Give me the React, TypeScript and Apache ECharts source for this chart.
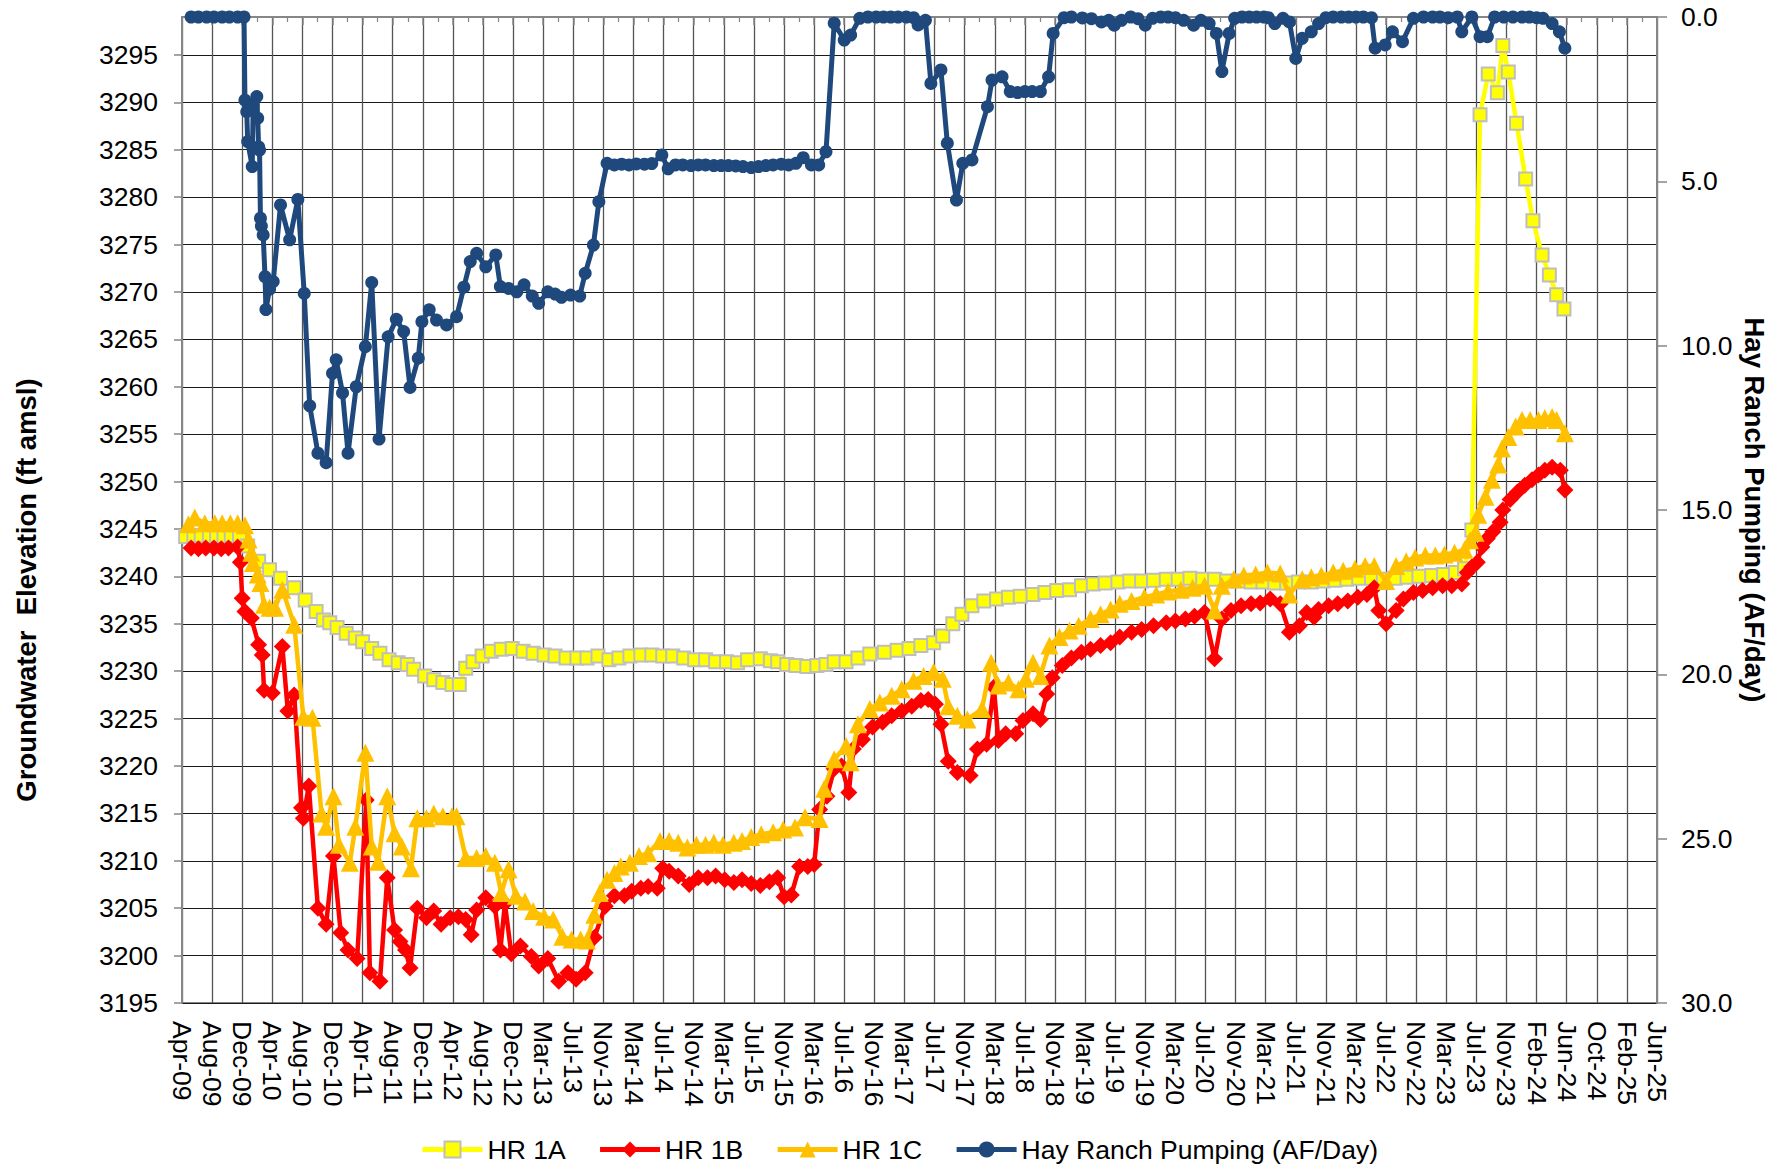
import React, { useEffect, useRef } from "react";
import * as echarts from "echarts";

const xLabels = [
  "Apr-09", "Aug-09", "Dec-09", "Apr-10", "Aug-10", "Dec-10", "Apr-11", "Aug-11", "Dec-11", "Apr-12",
  "Aug-12", "Dec-12", "Mar-13", "Jul-13", "Nov-13", "Mar-14", "Jul-14", "Nov-14", "Mar-15", "Jul-15",
  "Nov-15", "Mar-16", "Jul-16", "Nov-16", "Mar-17", "Jul-17", "Nov-17", "Mar-18", "Jul-18", "Nov-18",
  "Mar-19", "Jul-19", "Nov-19", "Mar-20", "Jul-20", "Nov-20", "Mar-21", "Jul-21", "Nov-21", "Mar-22",
  "Jul-22", "Nov-22", "Mar-23", "Jul-23", "Nov-23", "Feb-24", "Jun-24", "Oct-24", "Feb-25", "Jun-25",
];

// x-axis: label k sits at decimal year X0 + k * XSTEP
const X0 = 2009.29;
const XSTEP = 0.33;

// [decimal year, groundwater elevation ft amsl]
const hr1a: [number, number][] = [
  [2009.33, 3244.2], [2009.42, 3244.3], [2009.5, 3244.3], [2009.59, 3244.2], [2009.67, 3244.3], [2009.75, 3244.2],
  [2009.83, 3244.3], [2009.92, 3244.2], [2010.01, 3243.2], [2010.13, 3241.6], [2010.25, 3240.7], [2010.37, 3239.8],
  [2010.52, 3238.8], [2010.64, 3237.5], [2010.76, 3236.3], [2010.84, 3235.4], [2010.91, 3235.1], [2010.99, 3234.6],
  [2011.09, 3234.0], [2011.19, 3233.5], [2011.27, 3233.1], [2011.37, 3232.4], [2011.46, 3231.9], [2011.56, 3231.2],
  [2011.66, 3230.9], [2011.76, 3230.7], [2011.83, 3230.2], [2011.95, 3229.5], [2012.05, 3229.1], [2012.15, 3228.8],
  [2012.25, 3228.6], [2012.33, 3228.6], [2012.4, 3230.3], [2012.48, 3231.0], [2012.58, 3231.6], [2012.68, 3232.1],
  [2012.79, 3232.3], [2012.91, 3232.4], [2013.03, 3232.1], [2013.14, 3231.9], [2013.26, 3231.7], [2013.38, 3231.6],
  [2013.5, 3231.4], [2013.62, 3231.4], [2013.73, 3231.4], [2013.85, 3231.6], [2013.97, 3231.2], [2014.08, 3231.4],
  [2014.2, 3231.6], [2014.32, 3231.7], [2014.44, 3231.7], [2014.56, 3231.6], [2014.67, 3231.6], [2014.79, 3231.4],
  [2014.91, 3231.2], [2015.03, 3231.2], [2015.14, 3231.0], [2015.26, 3231.0], [2015.38, 3230.9], [2015.49, 3231.2],
  [2015.63, 3231.3], [2015.74, 3231.1], [2015.82, 3231.0], [2015.92, 3230.7], [2016.02, 3230.6], [2016.14, 3230.5],
  [2016.25, 3230.6], [2016.35, 3230.7], [2016.44, 3231.0], [2016.57, 3231.0], [2016.7, 3231.4], [2016.83, 3231.8],
  [2016.99, 3232.0], [2017.13, 3232.2], [2017.26, 3232.4], [2017.39, 3232.7], [2017.53, 3233.0], [2017.63, 3233.7],
  [2017.74, 3235.0], [2017.84, 3236.0], [2017.95, 3236.9], [2018.08, 3237.4], [2018.22, 3237.6], [2018.35, 3237.8],
  [2018.48, 3237.9], [2018.62, 3238.1], [2018.75, 3238.3], [2018.88, 3238.5], [2019.02, 3238.6], [2019.15, 3239.0],
  [2019.28, 3239.2], [2019.41, 3239.3], [2019.55, 3239.4], [2019.68, 3239.5], [2019.81, 3239.5], [2019.94, 3239.6],
  [2020.08, 3239.7], [2020.21, 3239.7], [2020.34, 3239.8], [2020.48, 3239.7], [2020.61, 3239.7], [2020.74, 3239.5],
  [2020.87, 3239.5], [2021.01, 3239.4], [2021.14, 3239.4], [2021.27, 3239.3], [2021.4, 3239.3], [2021.53, 3239.4],
  [2021.67, 3239.4], [2021.8, 3239.5], [2021.93, 3239.6], [2022.06, 3239.7], [2022.19, 3239.8], [2022.33, 3239.8],
  [2022.46, 3239.7], [2022.59, 3239.8], [2022.72, 3239.9], [2022.85, 3240.0], [2022.99, 3240.1], [2023.12, 3240.2],
  [2023.25, 3240.4], [2023.35, 3240.8], [2023.43, 3244.9], [2023.52, 3288.7], [2023.61, 3293.0], [2023.71, 3291.0],
  [2023.77, 3296.0], [2023.83, 3293.2], [2023.92, 3287.8], [2024.02, 3281.9], [2024.1, 3277.5], [2024.2, 3273.9],
  [2024.28, 3271.8], [2024.36, 3269.7], [2024.44, 3268.2],
];

const hr1b: [number, number][] = [
  [2009.39, 3243.0], [2009.47, 3242.9], [2009.55, 3243.0], [2009.64, 3243.0], [2009.72, 3242.9], [2009.8, 3243.0],
  [2009.9, 3243.1], [2009.93, 3241.5], [2009.95, 3237.7], [2009.98, 3236.3], [2010.05, 3235.6], [2010.13, 3232.8],
  [2010.17, 3231.7], [2010.19, 3228.0], [2010.28, 3227.7], [2010.39, 3232.6], [2010.45, 3225.8], [2010.52, 3227.5],
  [2010.6, 3215.6], [2010.62, 3214.5], [2010.68, 3217.9], [2010.78, 3205.0], [2010.87, 3203.3], [2010.95, 3210.5],
  [2011.03, 3202.4], [2011.11, 3200.6], [2011.21, 3199.7], [2011.31, 3216.4], [2011.35, 3198.2], [2011.46, 3197.3],
  [2011.54, 3208.2], [2011.62, 3202.7], [2011.68, 3201.5], [2011.74, 3200.6], [2011.79, 3198.7], [2011.87, 3205.0],
  [2011.97, 3204.0], [2012.05, 3204.7], [2012.13, 3203.3], [2012.23, 3204.0], [2012.32, 3204.1], [2012.4, 3203.8],
  [2012.46, 3202.2], [2012.52, 3204.8], [2012.62, 3206.1], [2012.72, 3205.2], [2012.78, 3200.6], [2012.83, 3205.5],
  [2012.9, 3200.2], [2013.0, 3201.0], [2013.12, 3199.9], [2013.2, 3198.9], [2013.3, 3199.7], [2013.42, 3197.3],
  [2013.52, 3198.2], [2013.61, 3197.5], [2013.71, 3198.2], [2013.81, 3201.9], [2013.93, 3205.2], [2014.03, 3206.3],
  [2014.14, 3206.3], [2014.22, 3206.8], [2014.32, 3207.1], [2014.4, 3207.3], [2014.5, 3207.1], [2014.56, 3209.2],
  [2014.63, 3208.9], [2014.73, 3208.4], [2014.85, 3207.5], [2014.95, 3208.2], [2015.05, 3208.2], [2015.14, 3208.4],
  [2015.24, 3208.0], [2015.34, 3207.7], [2015.43, 3208.0], [2015.53, 3207.6], [2015.63, 3207.4], [2015.73, 3207.8],
  [2015.82, 3208.2], [2015.89, 3206.2], [2015.97, 3206.4], [2016.06, 3209.4], [2016.15, 3209.4], [2016.22, 3209.6],
  [2016.28, 3215.4], [2016.36, 3216.8], [2016.44, 3219.7], [2016.52, 3220.0], [2016.6, 3217.2], [2016.65, 3221.8],
  [2016.75, 3222.8], [2016.86, 3224.1], [2016.97, 3224.6], [2017.07, 3225.3], [2017.18, 3225.8], [2017.29, 3226.3],
  [2017.39, 3226.9], [2017.47, 3227.0], [2017.55, 3226.5], [2017.61, 3224.4], [2017.69, 3220.5], [2017.79, 3219.3],
  [2017.93, 3219.0], [2018.01, 3221.8], [2018.11, 3222.3], [2018.19, 3228.3], [2018.24, 3222.7], [2018.32, 3223.4],
  [2018.43, 3223.4], [2018.51, 3224.8], [2018.62, 3225.5], [2018.7, 3224.9], [2018.77, 3227.6], [2018.83, 3229.3],
  [2018.94, 3230.6], [2019.04, 3231.4], [2019.15, 3232.0], [2019.25, 3232.3], [2019.36, 3232.7], [2019.47, 3233.0],
  [2019.57, 3233.6], [2019.7, 3234.1], [2019.81, 3234.4], [2019.94, 3234.8], [2020.08, 3235.1], [2020.18, 3235.3],
  [2020.29, 3235.5], [2020.39, 3235.8], [2020.5, 3236.2], [2020.61, 3231.3], [2020.69, 3235.5], [2020.79, 3236.4],
  [2020.9, 3236.9], [2021.01, 3237.1], [2021.11, 3237.2], [2021.22, 3237.6], [2021.33, 3237.1], [2021.43, 3234.1],
  [2021.54, 3234.8], [2021.62, 3236.2], [2021.7, 3235.7], [2021.75, 3236.5], [2021.86, 3236.9], [2021.96, 3237.1],
  [2022.07, 3237.4], [2022.18, 3237.8], [2022.28, 3238.1], [2022.36, 3238.8], [2022.41, 3236.4], [2022.49, 3235.0],
  [2022.6, 3236.4], [2022.68, 3237.6], [2022.79, 3238.3], [2022.89, 3238.5], [2023.0, 3238.8], [2023.11, 3239.0],
  [2023.21, 3239.0], [2023.32, 3239.2], [2023.38, 3240.4], [2023.43, 3241.0], [2023.49, 3241.5], [2023.54, 3243.1],
  [2023.6, 3244.0], [2023.66, 3244.7], [2023.74, 3245.7], [2023.77, 3247.0], [2023.85, 3248.1], [2023.93, 3248.9],
  [2024.01, 3249.6], [2024.09, 3250.2], [2024.16, 3250.7], [2024.23, 3251.2], [2024.31, 3251.5], [2024.4, 3251.2],
  [2024.45, 3249.1],
];

const hr1c: [number, number][] = [
  [2009.36, 3245.5], [2009.43, 3246.2], [2009.54, 3245.6], [2009.65, 3245.6], [2009.73, 3245.6], [2009.82, 3245.6],
  [2009.9, 3245.6], [2009.98, 3245.4], [2010.02, 3243.9], [2010.05, 3242.5], [2010.07, 3241.4], [2010.12, 3240.2],
  [2010.15, 3239.3], [2010.19, 3237.0], [2010.25, 3236.7], [2010.31, 3236.7], [2010.39, 3238.6], [2010.52, 3234.9],
  [2010.62, 3225.2], [2010.72, 3225.1], [2010.82, 3215.0], [2010.87, 3213.6], [2010.95, 3216.8], [2011.01, 3211.7],
  [2011.13, 3209.8], [2011.19, 3213.6], [2011.3, 3221.4], [2011.37, 3211.5], [2011.44, 3209.9], [2011.54, 3216.8],
  [2011.62, 3212.9], [2011.7, 3211.5], [2011.8, 3209.2], [2011.87, 3214.5], [2011.97, 3214.5], [2012.05, 3215.0],
  [2012.15, 3214.7], [2012.25, 3214.7], [2012.3, 3214.7], [2012.4, 3210.3], [2012.52, 3210.3], [2012.62, 3210.5],
  [2012.72, 3209.8], [2012.79, 3206.6], [2012.87, 3209.1], [2012.95, 3206.3], [2013.05, 3205.7], [2013.14, 3204.7],
  [2013.26, 3204.1], [2013.36, 3203.8], [2013.46, 3202.0], [2013.56, 3201.7], [2013.66, 3201.7], [2013.73, 3201.6],
  [2013.81, 3204.3], [2013.87, 3206.6], [2013.95, 3208.0], [2014.03, 3208.7], [2014.1, 3209.4], [2014.2, 3209.8],
  [2014.3, 3210.5], [2014.4, 3210.8], [2014.53, 3212.1], [2014.63, 3212.1], [2014.73, 3211.9], [2014.83, 3211.4],
  [2014.93, 3211.7], [2015.03, 3211.7], [2015.12, 3211.9], [2015.22, 3211.7], [2015.34, 3211.9], [2015.43, 3212.1],
  [2015.53, 3212.5], [2015.64, 3212.8], [2015.77, 3213.0], [2015.88, 3213.3], [2016.01, 3213.5], [2016.12, 3214.6],
  [2016.28, 3214.4], [2016.33, 3217.6], [2016.44, 3220.7], [2016.57, 3222.1], [2016.62, 3220.4], [2016.7, 3224.4],
  [2016.83, 3226.0], [2016.94, 3226.7], [2017.07, 3227.4], [2017.18, 3228.1], [2017.31, 3229.0], [2017.42, 3229.5],
  [2017.53, 3229.9], [2017.63, 3229.2], [2017.69, 3226.3], [2017.79, 3225.3], [2017.9, 3224.9], [2018.06, 3226.0],
  [2018.16, 3230.9], [2018.24, 3228.5], [2018.35, 3228.8], [2018.46, 3228.1], [2018.54, 3229.2], [2018.62, 3230.9],
  [2018.7, 3229.5], [2018.8, 3232.7], [2018.91, 3233.6], [2019.02, 3234.3], [2019.12, 3234.8], [2019.25, 3235.5],
  [2019.36, 3236.0], [2019.47, 3236.5], [2019.57, 3237.1], [2019.7, 3237.4], [2019.84, 3237.8], [2019.97, 3238.1],
  [2020.1, 3238.4], [2020.24, 3238.6], [2020.37, 3238.8], [2020.5, 3239.0], [2020.61, 3236.4], [2020.69, 3239.0],
  [2020.82, 3239.7], [2020.93, 3240.1], [2021.06, 3240.2], [2021.19, 3240.4], [2021.33, 3240.3], [2021.43, 3238.1],
  [2021.57, 3239.7], [2021.67, 3239.9], [2021.78, 3240.1], [2021.91, 3240.4], [2022.02, 3240.6], [2022.15, 3240.8],
  [2022.26, 3241.1], [2022.36, 3241.1], [2022.49, 3239.5], [2022.6, 3241.1], [2022.71, 3241.6], [2022.81, 3242.0],
  [2022.92, 3242.2], [2023.03, 3242.2], [2023.13, 3242.3], [2023.24, 3242.5], [2023.35, 3242.8], [2023.41, 3243.8],
  [2023.47, 3244.6], [2023.5, 3246.5], [2023.58, 3248.4], [2023.65, 3250.2], [2023.72, 3251.8], [2023.76, 3253.5],
  [2023.83, 3254.7], [2023.91, 3255.8], [2023.98, 3256.5], [2024.07, 3256.5], [2024.16, 3256.5], [2024.23, 3256.7],
  [2024.31, 3256.8], [2024.36, 3256.5], [2024.45, 3255.1],
];

// [decimal year, Hay Ranch pumping AF/day] (right axis, inverted)
const pumping: [number, number][] = [
  [2009.39, 0], [2009.47, 0], [2009.56, 0], [2009.64, 0], [2009.73, 0], [2009.81, 0], [2009.9, 0], [2009.97, 0],
  [2009.98, 2.53], [2010.0, 2.88], [2010.01, 3.79], [2010.06, 4.55], [2010.07, 2.68], [2010.11, 2.42], [2010.12, 3.08],
  [2010.13, 3.95], [2010.14, 4.05], [2010.15, 6.12], [2010.16, 6.36], [2010.18, 6.63], [2010.2, 7.9], [2010.21, 8.9],
  [2010.25, 8.28], [2010.29, 8.05], [2010.37, 5.72], [2010.47, 6.78], [2010.56, 5.55], [2010.63, 8.41], [2010.69, 11.83],
  [2010.78, 13.27], [2010.87, 13.56], [2010.94, 10.84], [2010.98, 10.43], [2011.05, 11.44], [2011.11, 13.27],
  [2011.2, 11.25], [2011.3, 10.03], [2011.37, 8.08], [2011.45, 12.84], [2011.55, 9.73], [2011.64, 9.2], [2011.72, 9.57],
  [2011.79, 11.27], [2011.88, 10.38], [2011.92, 9.27], [2012.0, 8.91], [2012.08, 9.22], [2012.19, 9.37], [2012.3, 9.12],
  [2012.38, 8.22], [2012.45, 7.44], [2012.52, 7.19], [2012.62, 7.6], [2012.73, 7.24], [2012.78, 8.2], [2012.87, 8.26],
  [2012.96, 8.36], [2013.04, 8.15], [2013.13, 8.49], [2013.2, 8.71], [2013.3, 8.36], [2013.38, 8.43], [2013.45, 8.53],
  [2013.55, 8.46], [2013.65, 8.49], [2013.71, 7.8], [2013.8, 6.94], [2013.86, 5.62], [2013.95, 4.45], [2014.03, 4.5],
  [2014.11, 4.48], [2014.19, 4.5], [2014.27, 4.47], [2014.36, 4.48], [2014.44, 4.46], [2014.55, 4.2], [2014.62, 4.62],
  [2014.7, 4.5], [2014.78, 4.5], [2014.87, 4.52], [2014.95, 4.5], [2015.03, 4.5], [2015.12, 4.52], [2015.2, 4.52],
  [2015.28, 4.52], [2015.36, 4.53], [2015.44, 4.55], [2015.53, 4.58], [2015.61, 4.55], [2015.69, 4.52], [2015.77, 4.5],
  [2015.86, 4.48], [2015.94, 4.5], [2016.02, 4.45], [2016.1, 4.28], [2016.19, 4.5], [2016.27, 4.5], [2016.35, 4.1],
  [2016.44, 0.19], [2016.55, 0.7], [2016.62, 0.55], [2016.72, 0.04], [2016.81, 0], [2016.9, 0], [2016.98, 0],
  [2017.06, 0], [2017.14, 0], [2017.23, 0], [2017.31, 0.02], [2017.36, 0.24], [2017.44, 0.1], [2017.5, 2.02],
  [2017.61, 1.61], [2017.68, 3.84], [2017.78, 5.57], [2017.85, 4.45], [2017.95, 4.35], [2018.12, 2.73], [2018.17, 1.92],
  [2018.28, 1.82], [2018.37, 2.27], [2018.45, 2.3], [2018.53, 2.27], [2018.61, 2.27], [2018.7, 2.27], [2018.79, 1.82],
  [2018.84, 0.5], [2018.96, 0.02], [2019.04, 0], [2019.16, 0.03], [2019.26, 0.05], [2019.37, 0.15], [2019.45, 0.1],
  [2019.51, 0.25], [2019.59, 0.1], [2019.69, 0], [2019.77, 0.05], [2019.85, 0.25], [2019.93, 0.04], [2020.02, 0],
  [2020.1, 0], [2020.18, 0.02], [2020.27, 0.1], [2020.38, 0.25], [2020.46, 0.1], [2020.55, 0.2], [2020.63, 0.5],
  [2020.69, 1.66], [2020.77, 0.5], [2020.83, 0.04], [2020.91, 0], [2020.99, 0], [2021.07, 0], [2021.15, 0],
  [2021.2, 0.02], [2021.27, 0.2], [2021.36, 0.04], [2021.43, 0.15], [2021.5, 1.26], [2021.57, 0.65], [2021.67, 0.45],
  [2021.75, 0.2], [2021.83, 0.02], [2021.91, 0], [2022.0, 0], [2022.08, 0], [2022.16, 0], [2022.24, 0], [2022.33, 0.02],
  [2022.37, 0.95], [2022.48, 0.85], [2022.56, 0.45], [2022.67, 0.75], [2022.79, 0.04], [2022.9, 0], [2023.0, 0],
  [2023.08, 0], [2023.17, 0.02], [2023.27, 0], [2023.32, 0.45], [2023.43, 0], [2023.52, 0.6], [2023.6, 0.6],
  [2023.68, 0], [2023.78, 0], [2023.88, 0], [2023.98, 0], [2024.06, 0], [2024.14, 0.02], [2024.21, 0.04],
  [2024.31, 0.2], [2024.39, 0.45], [2024.45, 0.95],
];

const FONT = '"Liberation Sans", Arial, Helvetica, sans-serif';

export default function App() {
  const ref = useRef<HTMLDivElement>(null);

  useEffect(() => {
    if (!ref.current) return;
    const chart = echarts.init(ref.current, null, { renderer: "svg" });
    const toX = (y: number) => (y - X0) / XSTEP;
    const conv = (d: [number, number][]) => d.map(([y, v]) => [toX(y), v]);

    chart.setOption({
      animation: false,
      backgroundColor: "#ffffff",
      textStyle: { fontFamily: FONT },
      grid: {
        left: 182,
        top: 17,
        width: 1475,
        height: 986,
        show: true,
        borderColor: "#868686",
        borderWidth: 2,
        backgroundColor: "transparent",
        containLabel: false,
        outerBoundsMode: "none",
      },
      legend: {
        left: 420,
        top: 1136,
        itemWidth: 60,
        itemHeight: 20,
        itemGap: 32,
        padding: 0,
        lineStyle: { width: 5 },
        textStyle: { fontSize: 26.5, color: "#000", fontFamily: FONT, padding: [0, 0, 0, 0] },
        data: ["HR 1A", "HR 1B", "HR 1C", "Hay Ranch Pumping (AF/Day)"],
      },
      xAxis: {
        type: "value",
        min: 0,
        max: xLabels.length - 1,
        interval: 1,
        axisLine: { show: true, lineStyle: { color: "#868686", width: 2 } },
        axisTick: { show: true, length: 8, lineStyle: { color: "#868686", width: 1.5 } },
        minorTick: { show: true, splitNumber: 2, length: 5, lineStyle: { color: "#868686", width: 1.2 } },
        splitLine: { show: true, lineStyle: { color: "#555555", width: 1.3 } },
        axisLabel: {
          rotate: -90,
          margin: 18,
          fontSize: 26.5,
          color: "#000",
          fontFamily: FONT,
          showMinLabel: true,
          showMaxLabel: true,
          formatter: (v: number) => xLabels[Math.round(v)] ?? "",
        },
      },
      yAxis: [
        {
          type: "value",
          min: 3195,
          max: 3299,
          interval: 5,
          axisLine: { show: true, lineStyle: { color: "#868686", width: 2 } },
          axisTick: { show: true, length: 8, lineStyle: { color: "#868686", width: 1.5 } },
          splitLine: { show: true, lineStyle: { color: "#1a1a1a", width: 1 } },
          axisLabel: {
            margin: 24,
            fontSize: 26.5,
            color: "#000",
            fontFamily: FONT,
            showMaxLabel: false,
            formatter: (v: number) => (Math.abs(v % 5) < 1e-6 ? String(v) : ""),
          },
        },
        {
          type: "value",
          min: 0,
          max: 30,
          interval: 5,
          inverse: true,
          position: "right",
          axisLine: { show: true, lineStyle: { color: "#868686", width: 2 } },
          axisTick: { show: true, length: 10, lineStyle: { color: "#868686", width: 1.5 } },
          splitLine: { show: false },
          axisLabel: {
            margin: 24,
            fontSize: 26.5,
            color: "#000",
            fontFamily: FONT,
            formatter: (v: number) => v.toFixed(1),
          },
        },
      ],
      graphic: [
        {
          type: "text",
          x: 26,
          y: 590,
          rotation: Math.PI / 2,
          style: {
            text: "Groundwater  Elevation (ft amsl)",
            font: `bold 27.5px ${FONT}`,
            fill: "#000",
            align: "center",
            verticalAlign: "middle",
            textAlign: "center",
            textVerticalAlign: "middle",
          },
        },
        {
          type: "text",
          x: 1754,
          y: 510,
          rotation: -Math.PI / 2,
          style: {
            text: "Hay Ranch Pumping (AF/day)",
            font: `bold 27.5px ${FONT}`,
            fill: "#000",
            align: "center",
            verticalAlign: "middle",
            textAlign: "center",
            textVerticalAlign: "middle",
          },
        },
      ],
      series: [
        {
          name: "HR 1A",
          type: "line",
          yAxisIndex: 0,
          data: conv(hr1a),
          symbol: "rect",
          symbolSize: 13,
          clip: false,
          lineStyle: { color: "#FFFF00", width: 4.5 },
          itemStyle: { color: "#FFFF00", borderColor: "#BEBEBE", borderWidth: 2 },
          emphasis: { disabled: true },
          z: 2,
        },
        {
          name: "HR 1B",
          type: "line",
          yAxisIndex: 0,
          data: conv(hr1b),
          symbol: "diamond",
          symbolSize: 17,
          clip: false,
          lineStyle: { color: "#FF0000", width: 4.5 },
          itemStyle: { color: "#FF0000" },
          emphasis: { disabled: true },
          z: 3,
        },
        {
          name: "HR 1C",
          type: "line",
          yAxisIndex: 0,
          data: conv(hr1c),
          symbol: "triangle",
          symbolSize: 18,
          clip: false,
          lineStyle: { color: "#FFC000", width: 4.5 },
          itemStyle: { color: "#FFC000" },
          emphasis: { disabled: true },
          z: 4,
        },
        {
          name: "Hay Ranch Pumping (AF/Day)",
          type: "line",
          yAxisIndex: 1,
          data: conv(pumping),
          symbol: "circle",
          symbolSize: 13,
          clip: false,
          lineStyle: { color: "#1F497D", width: 5 },
          itemStyle: { color: "#1F497D" },
          emphasis: { disabled: true },
          z: 5,
        },
      ],
    });

    return () => chart.dispose();
  }, []);

  return (
    <div
      ref={ref}
      style={{ position: "absolute", left: 0, top: 0, width: 1787, height: 1168, background: "#fff" }}
    />
  );
}
